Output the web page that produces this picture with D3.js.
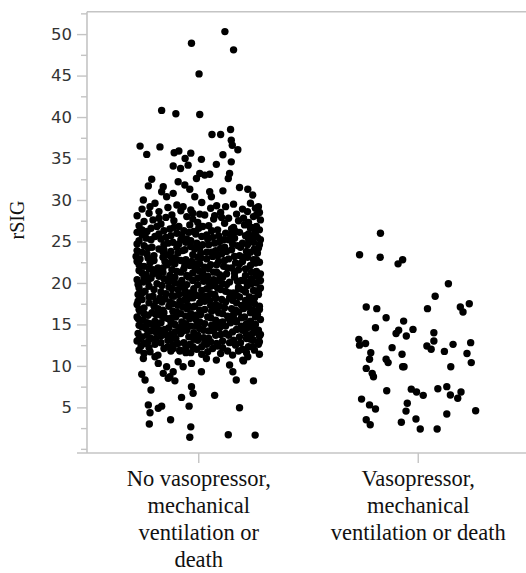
<!DOCTYPE html>
<html><head><meta charset="utf-8">
<script src="https://cdn.jsdelivr.net/npm/d3@7"></script>
<style>html,body{margin:0;padding:0;background:#fff;}svg{display:block;}
.serif{font-family:"Liberation Serif","Times New Roman",serif;}
.sans{font-family:"DejaVu Sans",Verdana,sans-serif;}</style>
</head><body>
<svg id="chart" width="526" height="573"></svg>
<script>
const categories = ["No vasopressor, mechanical ventilation or death", "Vasopressor, mechanical ventilation or death"];
const categoryLabelLines = [["No vasopressor,", "mechanical", "ventilation or", "death"], ["Vasopressor,", "mechanical", "ventilation or death"]];
const yTicks = [5, 10, 15, 20, 25, 30, 35, 40, 45, 50];
const yMinorTicks = [0, 2.5, 7.5, 12.5, 17.5, 22.5, 27.5, 32.5, 37.5, 42.5, 47.5, 52.5];
const yLabel = "rSIG";

// [jitter, rSIG] for group 1
const noVasoPoints = [
[26.3,50.3],[-7.3,48.9],[35,48.1],[0.3,45.2],[-37.3,40.8],[-23,40.4],[1,40.3],[32,38.5],[13.3,37.9],[22,37.9],[32.7,37.2],[33.7,36.6],[39.3,36.05],[-59,36.5],[-39,36.4],[-52.3,35.5],[-24.7,35.7],[-20,35.9],[-8,35.65],[24.3,35.45],[-13.7,35.0],[2.7,34.9],[32.7,34.6],[-25.7,34.1],[-18.3,33.8],[-10.7,34.2],[17.7,34.3],[1,33.2],[6,33.0],[11,33.1],[-2.3,32.6],[31,33.2],[29.7,32.6],[-47.3,32.5],[-50.7,31.7],[-35.7,31.6],[-20.7,32.2],[-14,31.8],[-37.3,31.0],[-32.3,30.4],[-25.7,30.8],[-9,31.3],[-4,30.4],[11,31.0],[12.7,30.4],[24.3,31.1],[41,31.5],[49.3,31.3],[54.3,30.6],[-55.7,30.0],[-49,29.2],[-15.7,29.2],
[-44,29.6],[-22,29.4],[3,29.7],[18,29.3],[35,29.5],[52,29.6],[60,29.2],
[-57,28.9],[-31,29.1],[-8,28.8],[12,29.0],[27,29.2],[44,28.9],[57,29.0],
[-50,28.4],[-40,28.6],[-18,28.7],[-6,28.4],[22,28.5],[38,28.3],[49,28.6],[61,28.5],
[-27,28.2],[1,28.3],[16,28.1],[58,28.2],
[-62,28.1],[-33,27.9],[-12,28.0],[6,28.2],[30,27.8],[55,28.0],
[-40,27.8],[-6,27.7],[23,27.9],[45,27.8],
[-55,27.4],[-46,27.6],[-25,27.5],[-1,27.3],[15,27.7],[40,27.5],[50,27.3],[62,27.6],
[-60,26.9],[-38,27.1],[-20,26.8],[-9,27.0],[10,26.9],[26,27.2],[46,27.0],[58,26.8],
[-42,26.8],[-25,26.7],[4,26.8],[35,26.7],[52,26.6],
[-57,26.4],[-48,26.6],[-29,26.5],[-15,26.3],[0,26.6],[19,26.4],[33,26.5],[53,26.7],[61,26.4],
[-52,26.2],[-35,26.3],[-10,26.1],[13,26.3],[37,26.2],[57,26.1],
[-62,26.1],[-40,25.9],[-22,26.0],[-5,26.2],[8,25.8],[27,26.0],[41,26.1],[50,25.9],
[-57,25.8],[-28,25.7],[-17,25.8],[20,25.7],[32,25.8],[55,25.7],[-3,25.9],
[-53,25.4],[-44,25.6],[-33,25.5],[-12,25.3],[3,25.6],[14,25.5],[36,25.4],[47,25.7],[59,25.5],
[-48,25.2],[-38,25.3],[-8,25.1],[9,25.3],[25,25.2],[50,25.3],[62,25.2],
[-60,25.1],[-26,24.9],[-18,25.2],[-2,24.8],[21,25.0],[30,25.2],[55,24.9],[44,24.8],
[-62,24.7],[-31,24.8],[-13,24.9],[4,24.6],[16,24.8],[34,24.7],[49,24.6],
[-55,24.5],[-47,24.3],[-35,24.6],[-8,24.4],[10,24.6],[26,24.3],[39,24.5],[61,24.6],[-20,24.7],
[-51,24.2],[-22,24.3],[-4,24.1],[22,24.2],[42,24.3],[60,24.2],[-35,24.0],
[-62,23.9],[-40,24.1],[-28,23.8],[-14,24.0],[1,24.2],[17,23.9],[33,24.0],[48,23.8],[56,24.1],
[-57,23.7],[-36,23.8],[-16,23.9],[13,23.7],[28,23.8],[52,23.7],[2,23.6],
[-52,23.5],[-45,23.3],[-21,23.6],[-6,23.4],[8,23.7],[23,23.5],[41,23.3],[59,23.6],[-33,23.4],
[-63,23.2],[-29,23.3],[-1,23.1],[19,23.3],[36,23.2],[45,23.1],[-51,23.0],
[-59,22.9],[-36,23.1],[-13,22.8],[2,23.0],[14,23.2],[30,22.9],[49,23.1],[55,22.8],[-25,23.0],
[-45,22.7],[-22,22.8],[-7,22.6],[8,22.9],[26,22.7],[58,22.8],[-34,22.6],
[-62,22.6],[-49,22.4],[-28,22.5],[-18,22.7],[-3,22.3],[20,22.6],[37,22.4],[44,22.6],[61,22.5],
[-60,22.2],[-24,22.3],[-14,22.1],[1,22.3],[18,22.2],[41,22.3],[57,22.4],
[-55,22.0],[-41,21.8],[-32,22.2],[-9,22.1],[6,21.9],[25,22.0],[33,21.8],[52,22.1],[12,22.2],
[-50,21.7],[-36,21.8],[-4,21.9],[10,21.7],[29,21.8],[47,21.7],[-27,21.6],
[-60,21.5],[-46,21.6],[-22,21.4],[-15,21.7],[0,21.5],[18,21.3],[40,21.6],[58,21.4],[-36,21.3],
[-57,21.2],[-46,21.1],[-18,21.3],[4,21.2],[15,21.3],[36,21.2],[53,21.3],
[-53,21.0],[-29,20.9],[-6,21.2],[9,20.8],[28,21.1],[47,20.9],[62,21.1],[-41,21.2],[21,21.0],
[-40,20.8],[-24,20.7],[-12,20.9],[3,20.8],[24,20.7],[58,20.8],[-55,20.7],
[-62,20.4],[-48,20.6],[-35,20.5],[-17,20.3],[-1,20.6],[15,20.4],[36,20.7],[53,20.5],[43,20.3],[-10,20.7],
[-51,20.3],[-29,20.2],[-6,20.3],[10,20.1],[20,20.3],[39,20.2],[48,20.1],[62,20.3],
[-56,20.1],[-42,19.9],[-24,20.0],[-12,19.8],[5,20.2],[24,19.9],[31,20.1],[58,20.0],[-31,20.2],
[-61,19.8],[-37,19.7],[-19,19.9],[-1,19.8],[16,19.7],[28,19.8],[53,19.9],
[-60,19.4],[-50,19.6],[-30,19.5],[-5,19.3],[12,19.6],[19,19.4],[40,19.5],[49,19.7],[62,19.4],[-17,19.6],
[-45,19.2],[-27,19.3],[-14,19.1],[8,19.3],[22,19.2],[40,19.3],[60,19.1],
[-54,19.0],[-38,18.9],[-21,19.2],[-9,18.8],[3,19.1],[27,19.0],[35,18.8],[55,19.1],[44,19.2],
[-57,18.8],[-33,18.7],[-5,18.9],[12,18.7],[31,18.8],[47,18.9],[-20,18.6],
[-61,18.6],[-46,18.4],[-27,18.5],[-14,18.7],[7,18.4],[16,18.6],[38,18.5],[51,18.3],[60,18.6],[-2,18.5],
[-50,18.3],[-39,18.2],[-25,18.4],[2,18.3],[17,18.2],[41,18.3],[56,18.2],[-11,18.1],
[-57,18.0],[-34,18.1],[-19,17.8],[-6,18.2],[11,17.9],[23,18.0],[31,18.2],[47,17.9],[-43,17.8],
[-61,17.8],[-29,17.7],[-15,17.9],[6,17.8],[27,17.7],[34,17.9],[51,17.8],
[-62,17.4],[-50,17.6],[-26,17.5],[-11,17.3],[1,17.6],[17,17.4],[38,17.6],[56,17.5],[43,17.3],[-37,17.7],
[-45,17.2],[-21,17.3],[-6,17.1],[12,17.3],[21,17.2],[47,17.4],[61,17.2],
[-55,17.0],[-41,16.9],[-30,17.2],[-16,17.1],[6,16.8],[26,17.0],[33,16.9],[50,17.1],[61,16.8],[-4,17.2],
[-60,16.8],[-36,16.7],[-12,16.9],[1,16.7],[17,16.8],[37,16.7],[45,16.9],[-26,16.6],
[-59,16.6],[-47,16.4],[-22,16.5],[-8,16.3],[13,16.6],[20,16.4],[40,16.5],[55,16.7],[-35,16.4],
[-55,16.3],[-43,16.2],[-18,16.3],[-3,16.1],[24,16.3],[35,16.2],[52,16.4],
[-62,15.9],[-38,16.1],[-27,15.8],[-13,16.0],[2,16.2],[9,15.9],[29,16.0],[46,15.9],[59,16.2],[-51,16.1],
[-61,15.7],[-35,15.8],[-23,15.9],[-9,15.7],[12,15.8],[30,15.7],[43,15.8],[57,15.9],
[-56,15.5],[-44,15.4],[-31,15.7],[-17,15.3],[-3,15.6],[17,15.5],[24,15.3],[36,15.6],[52,15.4],[62,15.6],
[-52,15.2],[-28,15.3],[-13,15.1],[1,15.3],[20,15.2],[38,15.3],[48,15.1],
[-60,14.9],[-49,15.1],[-24,15.0],[-8,14.8],[6,15.1],[13,14.9],[32,15.2],[43,14.8],[57,15.0],[-38,15.2],
[-57,14.7],[-42,14.8],[-30,14.6],[-16,14.9],[-3,14.8],[17,14.7],[27,14.8],[54,14.7],
[-53,14.5],[-34,14.4],[-20,14.6],[-12,14.3],[1,14.5],[21,14.6],[38,14.4],[49,14.6],[60,14.3],[-45,14.7],
[-48,14.2],[-38,14.3],[-24,14.1],[5,14.3],[15,14.2],[44,14.3],[57,14.1],
[-61,13.9],[-43,14.1],[-28,13.8],[-5,14.0],[10,14.2],[27,13.9],[34,14.1],[54,13.9],[-16,14.2],
[-52,13.7],[-33,13.8],[-18,13.9],[-1,13.7],[22,13.8],[30,13.7],[48,13.8],[62,13.8],
[-57,13.5],[-38,13.6],[-23,13.3],[-10,13.5],[5,13.4],[17,13.7],[41,13.5],[48,13.3],[61,13.6],[-48,13.3],
[-60,13.2],[-43,13.3],[-28,13.2],[-5,13.2],[10,13.3],[35,13.1],[52,13.2],
[-62,13.0],[-51,12.9],[-31,13.1],[-15,12.8],[-1,13.1],[24,13.0],[31,12.8],[55,13.1],[12,12.9],
[-55,12.7],[-38,12.8],[-21,12.7],[-9,12.6],[6,12.8],[18,12.7],[42,12.8],[61,12.9],
[-58,12.4],[-44,12.6],[-26,12.5],[-6,12.3],[8,12.6],[19,12.4],[37,12.5],[50,12.3],[60,12.6],
[-50,12.2],[-31,12.3],[-13,12.2],[3,12.3],[24,12.2],[54,12.3],
[-60,11.9],[-35,12.1],[-19,11.8],[-2,12.0],[14,12.1],[29,11.8],[44,12.0],[56,11.9],
[-49,11.7],[-28,11.8],[9,11.7],[40,11.8],[-13,11.6],
[-55,11.5],[-41,11.3],[-8,11.6],[3,11.4],[22,11.5],[34,11.3],[48,11.6],[61,11.4],
[-55.7,10.9],[-44,11.1],[-40.7,10.3],[-25.7,12.1],[-19,11.9],[-20.7,10.5],[-15.7,9.9],[-32.3,9.9],[-7.3,10.3],[7.7,10.9],[17.7,10.7],[2.7,9.3],[31,10.1],[34.3,9.3],[37.7,8.3],[44.3,10.7],[49.3,11.1],[55,8.2],[-57.3,9.0],[-54,8.3],[-25.7,9.3],[-29,8.7],[-24,8.2],[-35.7,9.1],[-30.7,8.5],[45,10.6],[-48,7.1],[-7.3,7.5],[-5.7,6.7],[-17.3,6.2],[16,6.45],[-9.7,5.15],[-50.7,5.3],[-49,4.35],[-40.7,4.9],[-37.3,5.15],[41,4.95],[-28.3,3.5],[-49.7,3.0],[-8,2.65],[-9,1.4],[29.7,1.7],[56.7,1.66]
];

// [jitter, rSIG] for group 2
const vasoPoints = [
[-38,26.0],[-59,23.4],[-38.3,23.1],[-15.7,22.8],[-20.3,22.3],[30.3,19.9],[17,18.4],[-52.3,17.1],[-41.7,16.9],[9.3,16.9],
[51.3,17.5],[42.3,17.1],[45,16.5],[-32.3,15.8],[-14.7,15.4],[-43,14.6],[-5.3,14.4],[-19.7,14.3],[-22.3,13.9],[-12,13.6],
[15.7,14.0],[-59.7,13.2],[-53,12.7],[-59,12.5],[15.7,13.0],[8.7,12.4],[13,12.0],[35,12.6],[52.7,12.8],[-26.3,12.2],
[26.3,11.75],[-47.7,11.6],[-16.3,11.4],[49,11.5],[-49,10.8],[-32.3,10.8],[-30.3,10.4],[53.3,10.4],[-15.7,9.9],[-14.3,9.9],[32.7,9.9],
[-52.3,9.7],[-46.3,9.1],[-45,8.7],[-31.7,7.0],[-7,7.2],[-1.7,6.85],[5,6.45],[19.7,7.25],[28.7,7.5],[32.3,6.5],
[39.7,6.1],[43,6.85],[-57,6.0],[-49,5.3],[-43,4.8],[-11,5.5],[-12.3,4.55],[57.7,4.6],[28.7,4.2],[-52.3,3.5],
[-48.3,2.9],[-17,3.2],[-2.3,3.6],[2,2.4],[19,2.4]
];

const svg = d3.select("#chart");
const plotLeft = 87, plotRight = 526, plotTop = 11.7, plotBottom = 453;

const x = d3.scaleBand().domain(categories).range([89, 528]).padding(0);
const y = d3.scaleLinear().domain([-0.5, 52.7]).range([plotBottom, plotTop]);
const jitter = d3.scaleLinear().domain([-64, 64]).range([-x.bandwidth() * 0.29, x.bandwidth() * 0.29]);
const cx = (cat) => x(cat) + x.bandwidth() / 2;

const axisColor = "#c4c4c4";

// frame lines
svg.append("line").attr("x1", plotLeft).attr("x2", plotRight).attr("y1", plotTop).attr("y2", plotTop)
  .attr("stroke", axisColor).attr("stroke-width", 1.6);
svg.append("line").attr("x1", plotLeft).attr("x2", plotLeft).attr("y1", plotTop).attr("y2", plotBottom)
  .attr("stroke", axisColor).attr("stroke-width", 1.6);
svg.append("line").attr("x1", plotLeft - 10).attr("x2", plotRight).attr("y1", plotBottom).attr("y2", plotBottom)
  .attr("stroke", axisColor).attr("stroke-width", 1.6);

// y axis ticks via d3 axis
const yAxis = svg.append("g").attr("transform", `translate(${plotLeft},0)`)
  .call(d3.axisLeft(y).tickValues(yTicks).tickSize(10).tickPadding(5).tickFormat(d3.format("d")));
yAxis.select(".domain").remove();
yAxis.attr("font-family", null).attr("font-size", null);
yAxis.selectAll(".tick line").attr("stroke", axisColor).attr("stroke-width", 1.4);
yAxis.selectAll(".tick text").attr("class", "sans")
  .attr("font-size", 16.5).attr("fill", "#333");

const yMinor = svg.append("g").attr("transform", `translate(${plotLeft},0)`)
  .call(d3.axisLeft(y).tickValues(yMinorTicks).tickSize(6).tickFormat(""));
yMinor.select(".domain").remove();
yMinor.selectAll(".tick line").attr("stroke", axisColor).attr("stroke-width", 1.4);

// x axis ticks
const xAxis = svg.append("g").attr("transform", `translate(0,${plotBottom})`)
  .call(d3.axisBottom(x).tickSize(10).tickFormat(""));
xAxis.select(".domain").remove();
xAxis.selectAll(".tick line").attr("stroke", axisColor).attr("stroke-width", 1.4);

// category labels
categories.forEach((cat, i) => {
  const t = svg.append("text").attr("class", "serif").attr("x", cx(cat)).attr("y", 486)
    .attr("text-anchor", "middle")
    .attr("font-size", 22.5).attr("fill", "#111");
  categoryLabelLines[i].forEach((line, j) => {
    t.append("tspan").attr("x", cx(cat)).attr("dy", j === 0 ? 0 : 27).text(line);
  });
});

// y label
svg.append("text").attr("class", "serif").attr("transform", "translate(24,220) rotate(-90)")
  .attr("text-anchor", "middle")
  .attr("font-size", 20).attr("fill", "#111").text(yLabel);

// points
const groups = [noVasoPoints, vasoPoints];
groups.forEach((pts, i) => {
  svg.append("g").selectAll("circle").data(pts).join("circle")
    .attr("cx", d => cx(categories[i]) + jitter(d[0]))
    .attr("cy", d => y(d[1]))
    .attr("r", 3.7)
    .attr("fill", "#000");
});
</script>
</body></html>
